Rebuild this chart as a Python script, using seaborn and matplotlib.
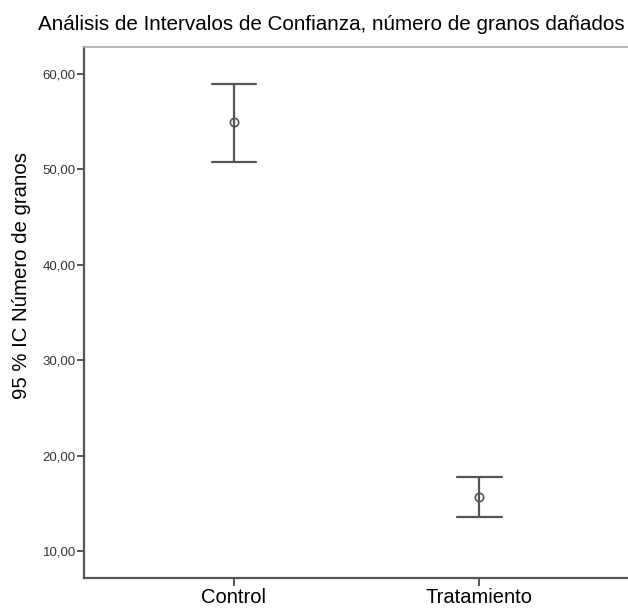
import numpy as np
import pandas as pd
import matplotlib
matplotlib.use("Agg")
import matplotlib.pyplot as plt
from matplotlib.ticker import FuncFormatter
import seaborn as sns

sns.set_style("white")
plt.rcParams['font.family'] = ['Liberation Sans', 'DejaVu Sans']

groups = ["Control", "Tratamiento"]
ci_low = [50.8, 13.6]
means = [54.9, 15.7]
ci_high = [58.9, 17.8]

# long table: low / mean / high per group -> median = mean, full range = CI
df = pd.DataFrame({
    "grupo": np.repeat(groups, 3),
    "valor": np.ravel(np.column_stack([ci_low, means, ci_high])),
})

fig = plt.figure(figsize=(6.28, 6.08), dpi=100)
ax = fig.add_axes([0.134, 0.049, 0.868, 0.874])

sns.pointplot(data=df, x="grupo", y="valor", estimator="median",
              errorbar=("pi", 100), capsize=0.18, color="#555555",
              linestyle="none", marker="o", markersize=6,
              markerfacecolor="none", markeredgewidth=1.2,
              err_kws={"linewidth": 1.6}, ax=ax)

ax.set_xlim(-0.61, 1.61)
ax.set_ylim(7.2, 62.8)
ax.set_yticks([10, 20, 30, 40, 50, 60])
ax.yaxis.set_major_formatter(FuncFormatter(lambda v, p: f"{v:.2f}".replace(".", ",")))

for s in ["left", "bottom"]:
    ax.spines[s].set_color("#555555")
    ax.spines[s].set_linewidth(1.6)
ax.spines["top"].set_color("#aaaaaa")
ax.spines["top"].set_linewidth(1.2)
ax.spines["right"].set_visible(False)

ax.tick_params(axis="y", direction="out", length=5, width=1.4, color="#555555",
               labelsize=9.5, labelcolor="#333333", pad=1, left=True)
ax.tick_params(axis="x", direction="out", length=6, width=1.4, color="#555555",
               labelsize=14.5, labelcolor="black", pad=1, bottom=True)

ax.set_xlabel("")
ax.set_ylabel("95 % IC Número de granos", fontsize=14.7, color="black")
ax.yaxis.set_label_coords(-0.098, 0.569)

fig.text(0.527, 0.951, "Análisis de Intervalos de Confianza, número de granos dañados",
         ha="center", va="baseline", fontsize=14.9, color="black")

fig.savefig("out.png", dpi=100)
